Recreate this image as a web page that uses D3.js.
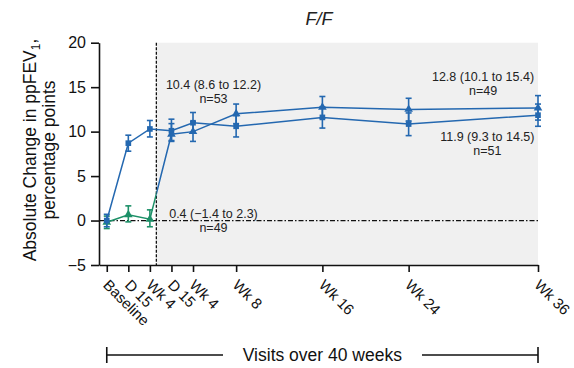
<!DOCTYPE html>
<html>
<head>
<meta charset="utf-8">
<script src="https://cdn.jsdelivr.net/npm/d3@7"></script>
<style>
  body { margin: 0; background: #fff; }
  svg { font-family: "Liberation Sans", Arial, sans-serif; }
</style>
</head>
<body>
<svg width="574" height="368"></svg>
<script>
// visit timeline (weeks from baseline) and tick labels
const weeks = [0, 2, 4, 6, 8, 12, 20, 28, 40];
const tickLabels = ["Baseline", "D 15", "Wk 4", "D 15", "Wk 4", "Wk 8", "Wk 16", "Wk 24", "Wk 36"];
const openLabelStart = 4.6;

// group A (n=53 -> n=51), squares
const meanA = [0.0, 8.7, 10.3, 10.1, 11.0, 10.6, 11.6, 10.85, 11.85];
const lowA  = [-0.7, 7.8, 9.4, 9.0, 9.9, 9.4, 10.4, 9.55, 10.6];
const highA = [0.7, 9.6, 11.25, 11.4, 12.15, 11.8, 12.8, 12.1, 13.1];

// group B (placebo then open label, n=49), triangles
const meanB = [-0.2, 0.65, 0.15, 9.7, 10.0, 12.0, 12.75, 12.5, 12.65];
const lowB  = [-0.9, -0.15, -0.7, 8.9, 8.9, 10.9, 11.5, 11.2, 11.3];
const highB = [0.5, 1.65, 1.2, 10.9, 11.1, 13.1, 13.95, 13.75, 14.05];

const annotations = [
  { x: 9.9, y: 14.8, lines: ["10.4 (8.6 to 12.2)", "n=53"] },
  { x: 34.9, y: 15.7, lines: ["12.8 (10.1 to 15.4)", "n=49"] },
  { x: 35.3, y: 8.9, lines: ["11.9 (9.3 to 14.5)", "n=51"] },
  { x: 9.9, y: 0.3, lines: ["0.4 (\u22121.4 to 2.3)", "n=49"] }
];

const blue = "#2468b0";
const green = "#1d9068";

const svg = d3.select("svg");
const x = d3.scaleLinear().domain([-0.72, 40]).range([99, 538]);
const y = d3.scaleLinear().domain([-5, 20]).range([265, 42.7]);

// shaded open-label period
svg.append("rect")
  .attr("x", x(openLabelStart)).attr("y", y(20))
  .attr("width", x(40) - x(openLabelStart)).attr("height", y(-5) - y(20))
  .attr("fill", "#f0f0f0");

// reference lines
svg.append("line")
  .attr("x1", x.range()[0]).attr("x2", x(40))
  .attr("y1", y(0)).attr("y2", y(0))
  .attr("stroke", "#111").attr("stroke-width", 1.3)
  .attr("stroke-dasharray", "5,2,1.5,2");
svg.append("line")
  .attr("x1", x(openLabelStart)).attr("x2", x(openLabelStart))
  .attr("y1", y(20)).attr("y2", y(-5))
  .attr("stroke", "#111").attr("stroke-width", 1.3)
  .attr("stroke-dasharray", "3,1.5");

// axes
const yAxis = svg.append("g")
  .attr("transform", `translate(${x.range()[0]},0)`)
  .call(d3.axisLeft(y).tickValues([-5, 0, 5, 10, 15, 20]).tickSize(8).tickSizeOuter(0).tickPadding(5));
yAxis.selectAll("text").attr("font-size", 16).attr("fill", "#111");

const xAxis = svg.append("g")
  .attr("transform", `translate(0,${y(-5)})`)
  .call(d3.axisBottom(x).tickValues(weeks).tickSize(7).tickSizeOuter(0).tickFormat((d, i) => tickLabels[i]));
xAxis.selectAll("text")
  .attr("font-size", 15).attr("fill", "#111")
  .attr("text-anchor", "start")
  .attr("dy", null).attr("y", 0)
  .attr("transform", "translate(3,13) rotate(45)")
  .attr("dominant-baseline", "hanging");
svg.selectAll(".domain, .tick line").attr("stroke", "#111").attr("stroke-width", 1.6);

// series
const defs = svg.append("defs");
defs.append("clipPath").attr("id", "beforeOL")
  .append("rect").attr("x", 0).attr("y", 0).attr("width", x(openLabelStart)).attr("height", 368);
defs.append("clipPath").attr("id", "afterOL")
  .append("rect").attr("x", x(openLabelStart)).attr("y", 0).attr("width", 574).attr("height", 368);

const line = d3.line().x(d => x(d.w)).y(d => y(d.m));
const rows = (m, lo, hi) => weeks.map((w, i) => ({ w, m: m[i], lo: lo[i], hi: hi[i] }));
const dataA = rows(meanA, lowA, highA);
const dataB = rows(meanB, lowB, highB);

function drawSeries(data, colorFor, symbol) {
  const g = svg.append("g");
  // line: blue overall, green before open label for group B
  g.append("path").datum(data).attr("d", line)
    .attr("fill", "none").attr("stroke", colorFor(99)).attr("stroke-width", 1.5)
    .attr("clip-path", "url(#afterOL)");
  g.append("path").datum(data).attr("d", line)
    .attr("fill", "none").attr("stroke", colorFor(0)).attr("stroke-width", 1.5)
    .attr("clip-path", "url(#beforeOL)");
  const eb = g.selectAll(".eb").data(data).enter().append("g")
    .attr("stroke", d => colorFor(d.w)).attr("stroke-width", 1.6);
  eb.append("line").attr("x1", d => x(d.w)).attr("x2", d => x(d.w))
    .attr("y1", d => y(d.lo)).attr("y2", d => y(d.hi));
  eb.append("line").attr("x1", d => x(d.w) - 3).attr("x2", d => x(d.w) + 3)
    .attr("y1", d => y(d.lo)).attr("y2", d => y(d.lo));
  eb.append("line").attr("x1", d => x(d.w) - 3).attr("x2", d => x(d.w) + 3)
    .attr("y1", d => y(d.hi)).attr("y2", d => y(d.hi));
  g.selectAll(".pt").data(data).enter().append("path")
    .attr("d", d3.symbol().type(symbol).size(32))
    .attr("transform", d => `translate(${x(d.w)},${y(d.m)})`)
    .attr("fill", d => colorFor(d.w));
}

drawSeries(dataB, w => w < openLabelStart ? green : blue, d3.symbolTriangle);
drawSeries(dataA, () => blue, d3.symbolSquare);

// annotations
annotations.forEach(a => {
  const t = svg.append("text").attr("text-anchor", "middle").attr("font-size", 12.5).attr("fill", "#222");
  a.lines.forEach((s, i) => {
    t.append("tspan").attr("x", x(a.x)).attr("y", y(a.y) + i * 14).text(s);
  });
});

// title
svg.append("text").attr("x", 319).attr("y", 25).attr("text-anchor", "middle")
  .attr("font-size", 18).attr("font-style", "italic").attr("fill", "#222").text("F/F");

// y label
const yl = svg.append("text").attr("transform", "translate(0,150) rotate(-90)")
  .attr("text-anchor", "middle").attr("font-size", 17.5).attr("fill", "#111");
const l1 = yl.append("tspan").attr("x", 0).attr("y", 36);
l1.append("tspan").text("Absolute Change in ppFEV");
l1.append("tspan").attr("font-size", 12).attr("dy", 4).text("1");
l1.append("tspan").attr("dy", -4).text(",");
yl.append("tspan").attr("x", 0).attr("y", 55).text("percentage points");

// bottom bracket
const by = 355;
const bg = svg.append("g").attr("stroke", "#111").attr("stroke-width", 1.6);
bg.append("line").attr("x1", x(0)).attr("x2", x(0)).attr("y1", by - 8).attr("y2", by + 8);
bg.append("line").attr("x1", x(40)).attr("x2", x(40)).attr("y1", by - 8).attr("y2", by + 8);
bg.append("line").attr("x1", x(0)).attr("x2", 223).attr("y1", by).attr("y2", by);
bg.append("line").attr("x1", 422).attr("x2", x(40)).attr("y1", by).attr("y2", by);
svg.append("text").attr("x", (x(0) + x(40)) / 2 + 0).attr("y", by + 6)
  .attr("text-anchor", "middle").attr("font-size", 17.5).attr("fill", "#111")
  .text("Visits over 40 weeks");
</script>
</body>
</html>
